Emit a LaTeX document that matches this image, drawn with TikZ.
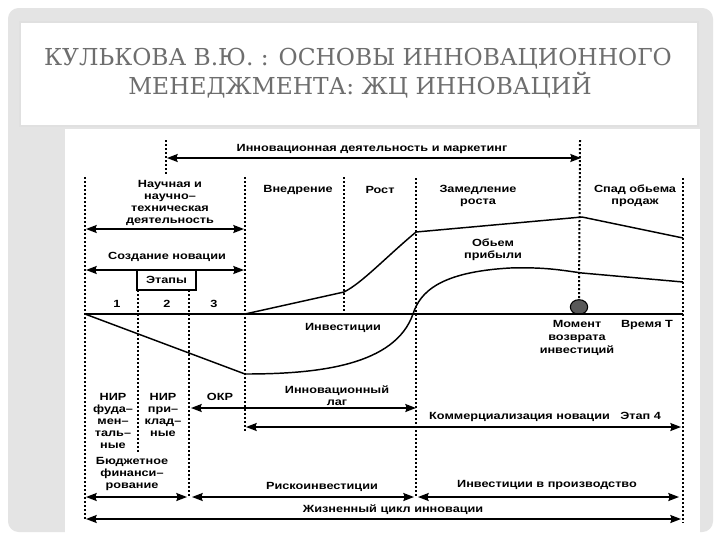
\documentclass[tikz,border=0pt]{standalone}
\usepackage{fontspec}
\setmainfont{DejaVu Serif}
\newfontfamily\ttlfont{DejaVu Serif}
\newfontfamily\dsf[FakeStretch=1.22]{Liberation Sans}
\usetikzlibrary{arrows.meta,shapes.geometric}
\definecolor{panelgray}{HTML}{E4E4E4}
\definecolor{titlegray}{HTML}{6E6E6E}
\tikzset{
  lbl/.style={font=\dsf\bfseries\fontsize{7.8}{9}\selectfont, align=center, inner sep=0pt},
  ttl/.style={font=\ttlfont\fontsize{17.5}{22}\selectfont, text=titlegray, inner sep=0pt, anchor=base},
  vdot/.style={line width=1.5pt, dash pattern=on 1.5pt off 1.5pt},
  dbl/.style={line width=1.1pt, {Stealth[length=8pt,width=6pt,inset=1pt]}-{Stealth[length=8pt,width=6pt,inset=1pt]}},
  crv/.style={line width=1.1pt, line join=round},
  ball/.style={ellipse, draw=black, line width=0.8pt, fill=black!65, minimum width=13pt, minimum height=11pt, inner sep=0pt},
  stagebox/.style={draw=black, line width=1.1pt, fill=white, minimum width=44pt, minimum height=15pt, inner sep=0pt}
}
\begin{document}
\begin{tikzpicture}[x=0.75pt,y=-0.75pt]
\useasboundingbox (0,0) rectangle (720,540);
% background panels
\fill[white] (0,0) rectangle (720,540);
\fill[panelgray, rounded corners=8pt] (8,8) rectangle (713,532);
\filldraw[fill=white, draw=black!12, line width=0.8pt] (20,22) rectangle (698,126);
\fill[white] (65,129) rectangle (700,540);

% title
\node[ttl] (t1) at (358,65) {КУЛЬКОВА В.Ю. : ОСНОВЫ ИННОВАЦИОННОГО};
\node[ttl] (t2) at (360,94) {МЕНЕДЖМЕНТА: ЖЦ ИННОВАЦИЙ};

% vertical dotted lines
\coordinate (vt1) at (166,140); \coordinate (vt2) at (166,176);
\coordinate (v0a) at (85,177);  \coordinate (v0b) at (85,521);
\coordinate (v1a) at (138,290); \coordinate (v1b) at (138,452);
\coordinate (v2a) at (189,290); \coordinate (v2b) at (189,498);
\coordinate (v3a) at (245,177); \coordinate (v3b) at (245,433);
\coordinate (v4a) at (344,177); \coordinate (v4b) at (344,314);
\coordinate (v5a) at (416,178); \coordinate (v5b) at (416,498);
\coordinate (v6a) at (580,140);
\coordinate (v7a) at (683,178); \coordinate (v7b) at (683,523);
\node[ball] (ball) at (579,307) {};
\draw[vdot] (vt1) -- (vt2);
\draw[vdot] (v0a) -- (v0b);
\draw[vdot] (v1a) -- (v1b);
\draw[vdot] (v2a) -- (v2b);
\draw[vdot] (v3a) -- (v3b);
\draw[vdot] (v4a) -- (v4b);
\draw[vdot] (v5a) -- (v5b);
\draw[vdot] (v6a) -- (ball.north);
\draw[vdot] (v7a) -- (v7b);

% time axis
\coordinate (ax0) at (85,314); \coordinate (ax1) at (683,314);
\draw[crv] (ax0) -- (ax1);

% top arrow
\coordinate (ta0) at (167,158); \coordinate (ta1) at (581,158);
\draw[dbl] (ta0) -- (ta1);
\node[lbl] (lmark) at (372,149) {Инновационная деятельность и маркетинг};

% phase labels
\node[lbl] (lsci) at (170,203) {Научная и\\научно–\\техническая\\деятельность};
\node[lbl] (lvn) at (298,190) {Внедрение};
\node[lbl] (lrost) at (380,190) {Рост};
\node[lbl] (lzam) at (478,196) {Замедление\\роста};
\node[lbl] (lspad) at (635,196) {Спад обьема\\продаж};

\coordinate (sa0) at (86,229); \coordinate (sa1) at (244,229);
\draw[dbl] (sa0) -- (sa1);
\node[lbl] (lsoz) at (167,257) {Создание новации};
\coordinate (ca0) at (86,270); \coordinate (ca1) at (244,270);
\draw[dbl] (ca0) -- (ca1);
\node[stagebox,lbl,draw=black,minimum width=44pt,minimum height=15pt] (etap) at (166.5,280) {Этапы};

\node[lbl] (n1) at (117,304) {1};
\node[lbl] (n2) at (167,304) {2};
\node[lbl] (n3) at (214,304) {3};

% sales curve
\coordinate (s0) at (245,314); \coordinate (s1) at (344,292);
\coordinate (s2) at (416,232); \coordinate (s3) at (582,217);
\coordinate (s4) at (683,238);
\draw[crv] (s0) -- (s1) .. controls (362,283) and (385,258) .. (s2) -- (s3) -- (s4);

% investment / profit curve
\coordinate (p0) at (85,314); \coordinate (p1) at (245,374);
\coordinate (p2) at (413,314); \coordinate (p3) at (510,268);
\coordinate (p4) at (582,273); \coordinate (p5) at (683,282);
\draw[crv] (p0) -- (p1) .. controls (320,374) and (395,365) .. (p2)
  .. controls (420,292) and (440,272) .. (p3)
  .. controls (545,267) and (560,270) .. (p4) -- (p5);

\node[lbl] (lprib) at (493,250) {Обьем\\прибыли};
\node[lbl] (linv) at (343,328) {Инвестиции};
\node[lbl, font=\dsf\bfseries\fontsize{7.8}{10}\selectfont] (lmom) at (577,338) {Момент\\возврата\\инвестиций};
\node[lbl] (ltime) at (647,325) {Время Т};

% lower labels
\node[lbl] (lnir1) at (113,421) {НИР\\фуда–\\мен–\\таль–\\ные};
\node[lbl] (lnir2) at (163,415) {НИР\\при–\\клад–\\ные};
\node[lbl] (lokr) at (220,397) {ОКР};
\node[lbl] (llag) at (337,396) {Инновационный\\лаг};
\coordinate (la0) at (191,408); \coordinate (la1) at (416,408);
\draw[dbl] (la0) -- (la1);
\node[lbl] (lkom) at (545,417) {Коммерциализация новации\quad Этап 4};
\coordinate (ka0) at (246,427); \coordinate (ka1) at (681,427);
\draw[dbl] (ka0) -- (ka1);

\node[lbl] (lbud) at (132,474) {Бюджетное\\финанси–\\рование};
\coordinate (ba0) at (86,497); \coordinate (ba1) at (187,497);
\draw[dbl] (ba0) -- (ba1);
\node[lbl] (lrisk) at (322,487) {Рискоинвестиции};
\coordinate (ra0) at (192,497); \coordinate (ra1) at (414,497);
\draw[dbl] (ra0) -- (ra1);
\node[lbl] (lprod) at (547,485) {Инвестиции в производство};
\coordinate (pa0) at (418,497); \coordinate (pa1) at (679,497);
\draw[dbl] (pa0) -- (pa1);
\node[lbl] (llife) at (393,510) {Жизненный цикл инновации};
\coordinate (ja0) at (86,519); \coordinate (ja1) at (681,519);
\draw[dbl] (ja0) -- (ja1);
\end{tikzpicture}
\end{document}
